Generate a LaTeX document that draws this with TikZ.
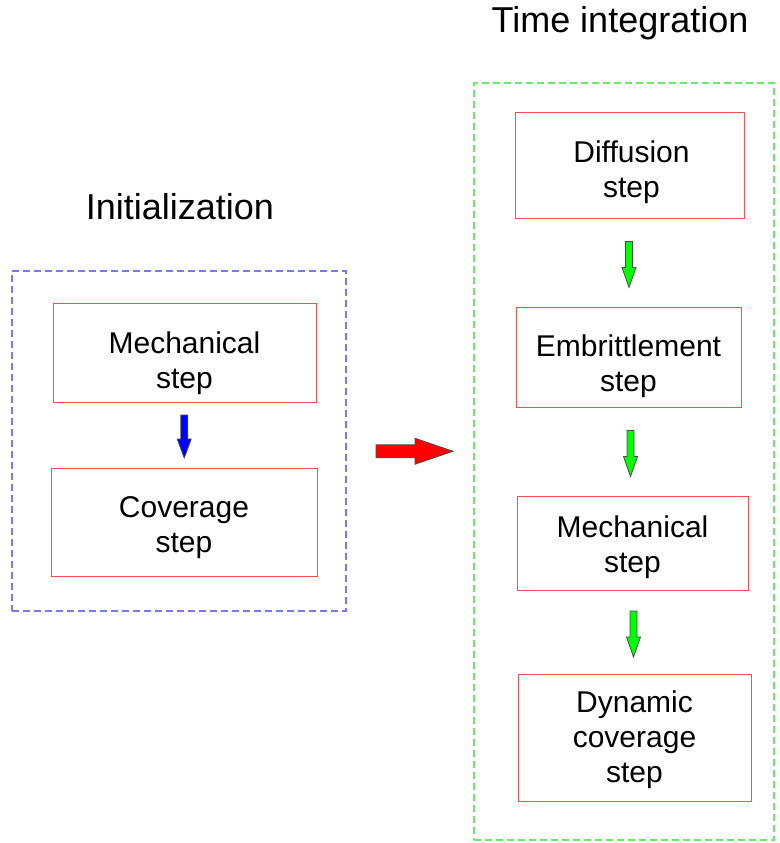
\documentclass[tikz,border=0pt]{standalone}
\usepackage{fontspec}
\setmainfont{Liberation Sans}
\usetikzlibrary{calc}

\definecolor{boxred}{HTML}{FF4D4D}
\definecolor{dashblue}{HTML}{7777FF}
\definecolor{dashgreen}{HTML}{66EE66}

\begin{document}
\begin{tikzpicture}[x=1pt, y=-1pt,
  stepbox/.style={draw=boxred, line width=1pt, inner sep=0pt},
  steptext/.style={align=center, inner sep=0pt, font=\fontsize{30}{35}\selectfont},
  groupbox/.style={dashed, line width=1.2pt, dash pattern=on 7pt off 4pt, inner sep=0pt},
  titletext/.style={font=\fontsize{36}{42}\selectfont},
  blockarrow/.style={draw=black!70, line width=0.8pt, line join=miter}]
  \useasboundingbox (0,0) rectangle (779,843);
  % titles
  \node[titletext] (inittitle) at (180,207) {Initialization};
  \node[titletext] (timetitle) at (620,23) {Time integration};
  % dashed groups
  \node[groupbox, draw=dashblue, minimum width=334pt, minimum height=340pt] (initgroup) at (179,441) {};
  \node[groupbox, draw=dashgreen, minimum width=300pt, minimum height=757pt] (timegroup) at (624,461.5) {};
  % initialization steps
  \node[stepbox, minimum width=263pt, minimum height=99pt] (mechA) at (184.5,352.5) {};
  \node[steptext] (mechAtext) at ($(mechA)+(0,11)$) {Mechanical\\step};
  \node[stepbox, minimum width=266pt, minimum height=108pt] (cover) at (184,522) {};
  \node[steptext] (covertext) at ($(cover)+(0,6)$) {Coverage\\step};
  % time integration steps
  \node[stepbox, minimum width=229pt, minimum height=106pt] (diffus) at (629.5,165) {};
  \node[steptext] (diffustext) at ($(diffus)+(2,7)$) {Diffusion\\step};
  \node[stepbox, minimum width=225pt, minimum height=100pt] (embrit) at (628.5,357) {};
  \node[steptext] (embrittext) at ($(embrit)+(0,9)$) {Embrittlement\\step};
  \node[stepbox, minimum width=231pt, minimum height=94pt] (mechB) at (632.5,543) {};
  \node[steptext] (mechBtext) at ($(mechB)+(0,4)$) {Mechanical\\step};
  \node[stepbox, minimum width=233pt, minimum height=127pt] (dyncov) at (634.5,737.5) {};
  \node[steptext] (dyncovtext) at ($(dyncov)+(0,2)$) {Dynamic\\coverage\\step};
  % block arrows
  \draw[blockarrow, fill=blue] ($(mechA.south)!0.5!(cover.north)$) ++(-3.5,-20) -- ++(7,0) -- ++(0,24)
    -- ++(3.5,0) -- ++(-7,19) -- ++(-7,-19) -- ++(3.5,0) -- cycle;
  \foreach \a/\b in {diffus/embrit, embrit/mechB, mechB/dyncov}
    \draw[blockarrow, fill=green] ($(\a.south)!0.5!(\b.north)$) ++(-3.5,-21) -- ++(7,0) -- ++(0,26)
      -- ++(3.5,0) -- ++(-7,20) -- ++(-7,-20) -- ++(3.5,0) -- cycle;
  \draw[blockarrow, fill=red] ($(initgroup.east)!0.5!(timegroup.west)$) ++(-34,-6.5) -- ++(39,0) -- ++(0,-6.5)
    -- ++(38,13) -- ++(-38,13) -- ++(0,-6.5) -- ++(-39,0) -- cycle;
\end{tikzpicture}
\end{document}
